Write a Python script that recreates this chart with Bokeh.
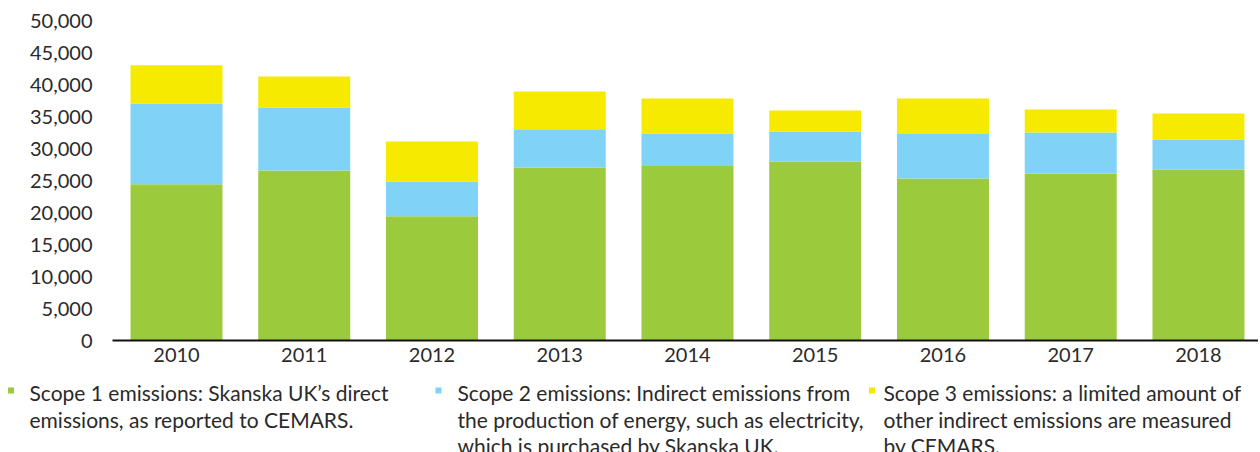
from bokeh.plotting import figure
from bokeh.models import ColumnDataSource, Range1d, FixedTicker, NumeralTickFormatter
from bokeh.layouts import column, row
from bokeh.embed import file_html
from bokeh.resources import INLINE
from bokeh.core.properties import value

# ---- data ----
years = [2010, 2011, 2012, 2013, 2014, 2015, 2016, 2017, 2018]
scope1 = [24400, 26550, 19400, 27050, 27250, 27950, 25300, 26100, 26700]
scope2 = [12600, 9850, 5450, 5950, 5100, 4700, 6950, 6400, 4700]
scope3 = [6000, 4850, 6250, 5900, 5450, 3300, 5550, 3600, 4050]
y_ticks = [0, 5000, 10000, 15000, 20000, 25000, 30000, 35000, 40000, 45000, 50000]

legend_lines = [
    ["Scope 1 emissions: Skanska UK\u2019s direct",
     "emissions, as reported to CEMARS."],
    ["Scope 2 emissions: Indirect emissions from",
     "the production of energy, such as electricity,",
     "which is purchased by Skanska UK."],
    ["Scope 3 emissions: a limited amount of",
     "other indirect emissions are measured",
     "by CEMARS."],
]

colors = ["#9bca3c", "#80d3f6", "#f6ea00"]
text_color = "#2a2a2a"
FONT = "Lato"

# ---- chart ----
src = ColumnDataSource(dict(year=years, s1=scope1, s2=scope2, s3=scope3))

p = figure(output_backend="svg", toolbar_location=None,
           frame_width=1146, frame_height=320,
           x_range=Range1d(2009.499, 2018.470), y_range=Range1d(0, 50000),
           min_border_left=112, min_border_right=0, min_border_top=20,
           min_border_bottom=40)
p.vbar_stack(["s1", "s2", "s3"], x="year", width=0.72, source=src,
             fill_color=colors, line_color=None)

p.xgrid.visible = False
p.ygrid.visible = False
p.outline_line_color = None
p.background_fill_color = "white"
p.border_fill_color = "white"

xa = p.xaxis[0]
xa.ticker = FixedTicker(ticks=years)
xa.major_label_overrides = {y: str(y) for y in years}
xa.axis_line_color = "#111111"
xa.axis_line_width = 1.8
xa.major_tick_line_color = None
xa.minor_tick_line_color = None
xa.major_tick_out = 0
xa.major_label_standoff = 7
xa.major_label_text_font = FONT
xa.major_label_text_font_size = "20px"
xa.major_label_text_color = text_color

ya = p.yaxis[0]
ya.ticker = FixedTicker(ticks=y_ticks)
ya.formatter = NumeralTickFormatter(format="0,0")
ya.axis_line_color = None
ya.major_tick_line_color = None
ya.minor_tick_line_color = None
ya.major_tick_out = 0
ya.major_label_standoff = 20
ya.major_label_text_font = FONT
ya.major_label_text_font_size = "20px"
ya.major_label_text_color = text_color

# ---- legend ----
lg_w, lg_h = 1258, 72
lg = figure(output_backend="svg", toolbar_location=None, width=lg_w, height=lg_h,
            x_range=Range1d(0, lg_w), y_range=Range1d(lg_h, 0),
            min_border=0, x_axis_location=None, y_axis_location=None)
lg.xgrid.visible = False
lg.ygrid.visible = False
lg.outline_line_color = None

marker_x = [10.5, 438, 871.5]
text_x = [29, 457, 883]
marker_y = 10
line_y = [12, 39, 65]

lg.scatter(x=marker_x, y=[marker_y] * 3, marker="square", size=6,
           fill_color=colors, line_color=None)
tx, ty, tt = [], [], []
for i, lines in enumerate(legend_lines):
    for j, line in enumerate(lines):
        tx.append(text_x[i])
        ty.append(line_y[j])
        tt.append(line)
lg.text(x=tx, y=ty, text=tt, text_font=value(FONT), text_font_size="21px",
        text_color=text_color, text_baseline="alphabetic", text_align="left")

layout = column(p, row(lg), spacing=0)
open("out.html", "w").write(file_html(layout, INLINE))
